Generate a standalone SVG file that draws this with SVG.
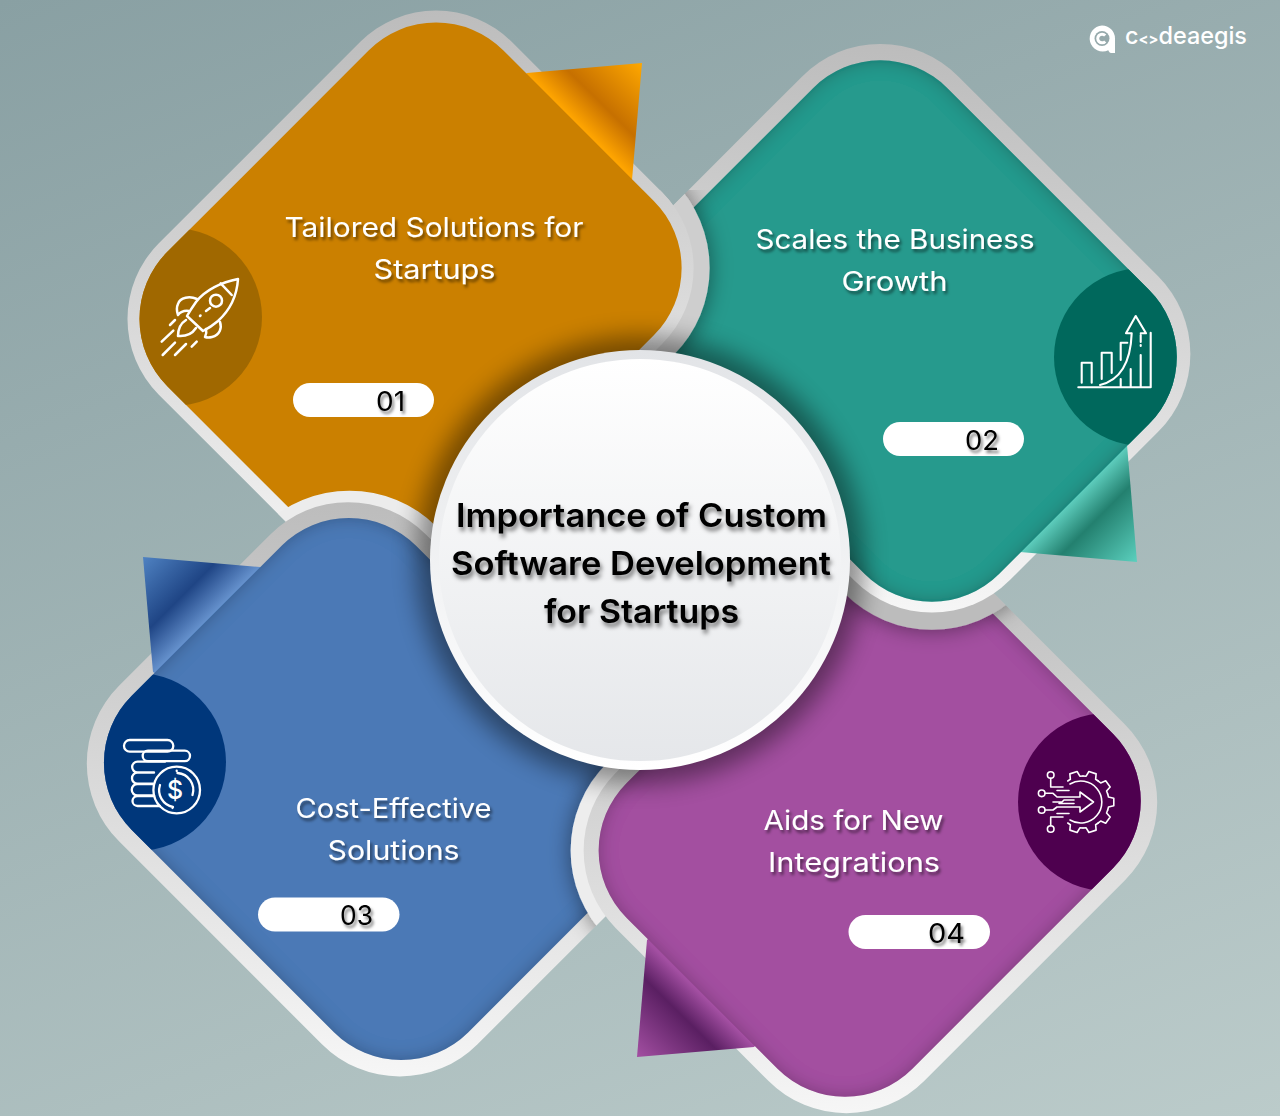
<svg xmlns="http://www.w3.org/2000/svg" xmlns:xlink="http://www.w3.org/1999/xlink" width="1280" height="1116" viewBox="0 0 1280 1116">
<style>
.lbl{font-family:Inter,"Open Sans","Liberation Sans",sans-serif;font-size:27px;font-weight:400;fill:#fff;text-anchor:middle;filter:url(#ts)}
.num{font-family:Inter,"Open Sans","Liberation Sans",sans-serif;font-size:27px;font-weight:400;fill:#000;filter:url(#ts)}
.ttl{font-family:Inter,"Open Sans","Liberation Sans",sans-serif;font-size:33px;font-weight:600;fill:#000;text-anchor:middle;filter:url(#ts2)}
.ic{fill:none;stroke:#fff;stroke-linecap:round;stroke-linejoin:round}
.pill{fill:#fff}
</style>
<defs>
<linearGradient id="bg" gradientUnits="userSpaceOnUse" x1="0" y1="0" x2="522" y2="1400"><stop offset="0" stop-color="#89a0a3"/><stop offset="1" stop-color="#bbcbca"/></linearGradient>
<linearGradient id="bord" x1="0" y1="0" x2="1" y2="1"><stop offset="0" stop-color="#b8b8b8"/><stop offset=".45" stop-color="#d4d4d4"/><stop offset="1" stop-color="#fbfbfb"/></linearGradient>
<linearGradient id="f1" gradientUnits="userSpaceOnUse" x1="580" y1="126" x2="642" y2="63"><stop offset="0" stop-color="#ffa500"/><stop offset=".35" stop-color="#c67000"/><stop offset="1" stop-color="#ffa800"/></linearGradient>
<linearGradient id="f2" gradientUnits="userSpaceOnUse" x1="1073" y1="498" x2="1137" y2="562"><stop offset="0" stop-color="#60d0c0"/><stop offset=".35" stop-color="#23806f"/><stop offset="1" stop-color="#5bd0be"/></linearGradient>
<linearGradient id="f3" gradientUnits="userSpaceOnUse" x1="206" y1="620" x2="143" y2="557"><stop offset="0" stop-color="#6490cc"/><stop offset=".38" stop-color="#1f4585"/><stop offset="1" stop-color="#4f82c2"/></linearGradient>
<linearGradient id="f4" gradientUnits="userSpaceOnUse" x1="700" y1="993" x2="637" y2="1057"><stop offset="0" stop-color="#a34fa2"/><stop offset=".32" stop-color="#5a1f62"/><stop offset="1" stop-color="#a34fa2"/></linearGradient>
<linearGradient id="ring" x1="0" y1="0" x2="0" y2="1"><stop offset="0" stop-color="#e2e4e7"/><stop offset="1" stop-color="#ffffff"/></linearGradient>
<linearGradient id="disc" x1="0" y1="0" x2="0" y2="1"><stop offset="0" stop-color="#ffffff"/><stop offset="1" stop-color="#e5e7ea"/></linearGradient>
<filter id="ts" x="-10%" y="-30%" width="120%" height="170%"><feDropShadow dx="2" dy="3" stdDeviation="1.6" flood-color="#000" flood-opacity=".5"/></filter>
<filter id="ts2" x="-10%" y="-30%" width="120%" height="170%"><feDropShadow dx="2" dy="4" stdDeviation="2" flood-color="#000" flood-opacity=".5"/></filter>
<filter id="inner" x="-5%" y="-5%" width="110%" height="110%"><feGaussianBlur in="SourceAlpha" stdDeviation="9" result="b"/><feComposite in="SourceAlpha" in2="b" operator="out" result="r"/><feFlood flood-color="#000" flood-opacity=".5"/><feComposite in2="r" operator="in" result="s"/><feMerge><feMergeNode in="SourceGraphic"/><feMergeNode in="s"/></feMerge></filter>
<filter id="band" x="-15%" y="-15%" width="130%" height="130%"><feDropShadow dx="0" dy="0" stdDeviation="11" flood-color="#000" flood-opacity=".45"/></filter>
<filter id="cs" x="-20%" y="-20%" width="140%" height="140%"><feGaussianBlur stdDeviation="12"/></filter>
<rect id="o-fill" x="209.5" y="55" width="403" height="475" rx="95" transform="rotate(45 409.5 292.5)"/>
<rect id="o-bord" x="197.5" y="43" width="427" height="499" rx="107" transform="rotate(45 409.5 292.5)"/>
<rect id="o-ext" x="181.5" y="27" width="459" height="531" rx="123" transform="rotate(45 409.5 292.5)"/>
<rect id="t-fill" x="669" y="129" width="475" height="402" rx="95" transform="rotate(45 905 330)"/>
<rect id="t-bord" x="653" y="113" width="503" height="430" rx="110" transform="rotate(45 905 330)"/>
<rect id="t-ext" x="641" y="101" width="531" height="458" rx="123" transform="rotate(45 905 330)"/>
<rect id="b-fill" x="137" y="588" width="476" height="402" rx="95" transform="rotate(45 375 789)"/>
<rect id="b-bord" x="121" y="573" width="507" height="434" rx="110" transform="rotate(45 375 789)"/>
<rect id="b-ext" x="110" y="560" width="530" height="458" rx="123" transform="rotate(45 375 789)"/>
<rect id="p-fill" x="668" y="588" width="404" height="474" rx="95" transform="rotate(45 869 825)"/>
<rect id="p-bord" x="653" y="573" width="436" height="504" rx="110" transform="rotate(45 869 825)"/>
<rect id="p-ext" x="640" y="560" width="460" height="530" rx="123" transform="rotate(45 869 825)"/>
<clipPath id="c-o"><use href="#o-fill"/></clipPath>
<clipPath id="c-t"><use href="#t-fill"/></clipPath>
<clipPath id="c-b"><use href="#b-fill"/></clipPath>
<clipPath id="c-p"><use href="#p-fill"/></clipPath>
<clipPath id="co-o"><use href="#o-bord"/></clipPath>
<clipPath id="co-t"><use href="#t-bord"/></clipPath>
<clipPath id="co-b"><use href="#b-bord"/></clipPath>
<clipPath id="co-p"><use href="#p-bord"/></clipPath>
<clipPath id="zone"><rect x="600" y="190" width="200" height="270"/></clipPath>
<path id="tooth" class="ic" stroke-width="1.6" d="M24.7 -8 L25.5 -5 L30.8 -3.8 V3.8 L25.5 5 L24.7 8"/>
</defs>
<rect width="1280" height="1116" fill="url(#bg)"/>

<g id="logo">
<path d="M1102 25.5a13 13 0 0 1 13 13V53h-3.5a3 3 0 0 1-2.6-1.6l-0.6-1.2A13 13 0 1 1 1102 25.5z" fill="#fff"/>
<circle cx="1102" cy="38.5" r="7.5" fill="#95a9ab"/>
<path d="M1105.2 35.6a4.3 4.3 0 1 0 0 5.8" fill="none" stroke="#fff" stroke-width="3"/>
<text x="1125" y="44" textLength="122" lengthAdjust="spacingAndGlyphs" style="font-family:Inter,'Open Sans',sans-serif;font-size:24px;font-weight:500;fill:#fff">c<tspan font-size="15" font-weight="700">&lt;&gt;</tspan>deaegis</text>
</g>

<g id="node-1">
<use href="#o-bord" fill="url(#bord)"/>
<path d="M527 73L642 63L632 180L620 190L515 85Z" fill="url(#f1)"/>
<use href="#o-fill" fill="#cb8000"/>
<circle cx="173" cy="317" r="89" fill="#a06800" clip-path="url(#c-o)"/>
<g class="ic" stroke-width="2.5">
<path d="M238 279C222 282 205 290 196 302Q191 309 187 316L203 331Q211 327 218 321C230 310 237 295 238 279Z"/>
<circle cx="216" cy="300.7" r="6"/>
<path d="M220.7 283.3L231.7 295"/>
<path d="M197 299C190 296 180 297 178 304C176 308 177 312 178 315Q182 310 189 311"/>
<path d="M220 322C222 328 220 335 212 337Q208 338 205 337Q207 333 206 329"/>
<path d="M186 320Q178 325 178 336Q190 337 196 328"/>
<path d="M161.7 341.7L173.3 330.7M170 325L175 320M162.7 355L175 342.7M175 355L186 344M191.7 346.7L196.7 341.7M206 311L210 308M200 316L200.5 315.5"/>
</g>
<text class="lbl" x="434" y="237" textLength="299" lengthAdjust="spacingAndGlyphs">Tailored Solutions for</text>
<text class="lbl" x="434.500" y="279" textLength="122" lengthAdjust="spacingAndGlyphs">Startups</text>
<rect class="pill" x="293" y="383" width="141" height="34" rx="17"/>
<text class="num" x="376" y="410.500" textLength="29" lengthAdjust="spacingAndGlyphs">01</text>
</g>

<g id="node-3">
<g clip-path="url(#co-o)"><use href="#b-ext" fill="#ececec"/></g>
<use href="#b-bord" fill="url(#bord)"/>
<path d="M260 567L143 557L153 672L170 682L272 580Z" fill="url(#f3)"/>
<use href="#b-fill" fill="#4c79b6" filter="url(#inner)"/>
<circle cx="137" cy="762" r="89" fill="#00377b" clip-path="url(#c-b)"/>
<g class="ic" stroke-width="2.3">
<rect x="124" y="740" width="49.3" height="11.7" rx="5.8"/>
<rect x="142.7" y="750.7" width="47.3" height="10.5" rx="5.2"/>
<path d="M165 761.7H137.5a5 5 0 0 0 0 10.7H154M154 772.7H137.5a5.2 5.2 0 0 0 0 11H153M153 784H137.5a5.5 5.5 0 0 0 0 11.5H154M154 796H137.5a5 5 0 0 0 0 10H160"/>
<circle cx="176.7" cy="790" r="23.3"/>
<path d="M177.5 773a17 17 0 0 1 15 22M173 807a17 17 0 0 1 -13 -22M176.7 770.7V771M172.500 807.5V808"/>
</g>
<text x="175" y="799" style="font-family:Inter,sans-serif;font-size:25px;font-weight:500;fill:#fff;text-anchor:middle">$</text>
<text class="lbl" x="393.500" y="818" textLength="196" lengthAdjust="spacingAndGlyphs">Cost-Effective</text>
<text class="lbl" x="393.500" y="860" textLength="132" lengthAdjust="spacingAndGlyphs">Solutions</text>
<rect class="pill" x="258" y="897.500" width="141.500" height="34" rx="17"/>
<text class="num" x="340" y="925" textLength="33" lengthAdjust="spacingAndGlyphs">03</text>
</g>

<g id="node-4">
<g clip-path="url(#co-b)"><use href="#p-ext" fill="#ededed" filter="url(#band)"/></g>
<use href="#p-bord" fill="url(#bord)"/>
<path d="M647 940L637 1057L754 1047L766 1035L660 928Z" fill="url(#f4)"/>
<use href="#p-fill" fill="#a34fa0" filter="url(#inner)"/>
<circle cx="1107" cy="802" r="89" fill="#4e004f" clip-path="url(#c-p)"/>
<g stroke-width="1.6">
<use href="#tooth" transform="translate(1083 802) rotate(-108)"/>
<use href="#tooth" transform="translate(1083 802) rotate(-72)"/>
<use href="#tooth" transform="translate(1083 802) rotate(-36)"/>
<use href="#tooth" transform="translate(1083 802)"/>
<use href="#tooth" transform="translate(1083 802) rotate(36)"/>
<use href="#tooth" transform="translate(1083 802) rotate(72)"/>
<use href="#tooth" transform="translate(1083 802) rotate(108)"/>
</g>
<g class="ic" stroke-width="1.6">
<circle cx="1050.700" cy="775" r="3.300"/><circle cx="1041.700" cy="793.300" r="3.300"/><circle cx="1041.700" cy="810" r="3.300"/><circle cx="1050.700" cy="829" r="3.300"/>
<path d="M1050.700 778.300V787H1063M1045 793.300H1053L1057 797H1080V792L1093.500 802L1080 812V807H1057L1053 810H1045M1050.700 825.700V817H1063"/>
<path d="M1057 790.500H1069M1057 813.500H1069M1053 802H1062L1064 800H1074M1059 803.500H1074"/>
<path d="M1070 784A21 21 0 1 1 1070 820"/>
</g>
<text class="lbl" x="853.500" y="830" textLength="180" lengthAdjust="spacingAndGlyphs">Aids for New</text>
<text class="lbl" x="854" y="872" textLength="172" lengthAdjust="spacingAndGlyphs">Integrations</text>
<rect class="pill" x="848.500" y="915" width="141.500" height="34" rx="17"/>
<text class="num" x="928" y="943" textLength="37" lengthAdjust="spacingAndGlyphs">04</text>
</g>

<g id="node-2">
<g clip-path="url(#co-p)"><use href="#t-ext" fill="#bcbcbc" filter="url(#band)"/></g>
<use href="#t-bord" fill="url(#bord)"/>
<path d="M1127 445L1137 562L1020 552L1008 540L1115 433Z" fill="url(#f2)"/>
<use href="#t-fill" fill="#269a8d" filter="url(#inner)"/>
<circle cx="1143" cy="357" r="89" fill="#00685c" clip-path="url(#c-t)"/>
<g class="ic" stroke-width="2.1">
<path d="M1078.300 387.300H1150.700M1150.700 332.700V387.300"/>
<path d="M1081.700 382.700V362.700H1091.700V382.700M1101.700 379V352.700H1111.700V373M1120.700 360V342.700H1127.300M1120.700 379V387M1130.700 369V387M1140.700 355V387M1140.700 345V346M1140.700 335V342"/>
<path d="M1100 385Q1130 378 1131.700 333.300"/>
<path d="M1130.700 333.300H1126L1135.700 316L1146 333.300H1140.700"/>
</g>
<text class="lbl" x="895" y="249" textLength="279" lengthAdjust="spacingAndGlyphs">Scales the Business</text>
<text class="lbl" x="894.500" y="291" textLength="106" lengthAdjust="spacingAndGlyphs">Growth</text>
<rect class="pill" x="883" y="422" width="141" height="34" rx="17"/>
<text class="num" x="965" y="450" textLength="34" lengthAdjust="spacingAndGlyphs">02</text>
</g>

<g id="node-1-overlap" clip-path="url(#zone)">
<g clip-path="url(#co-t)"><use href="#o-ext" fill="#cecece" filter="url(#band)"/></g>
<use href="#o-bord" fill="url(#bord)"/>
<use href="#o-fill" fill="#cb8000"/>
</g>

<g id="center">
<circle cx="640" cy="560" r="224" fill="#000" opacity=".42" filter="url(#cs)"/>
<circle cx="640" cy="560" r="210" fill="url(#ring)"/>
<circle cx="640" cy="560" r="201" fill="url(#disc)"/>
<text class="ttl" x="641.500" y="527" textLength="371" lengthAdjust="spacingAndGlyphs">Importance of Custom</text>
<text class="ttl" x="641" y="575" textLength="380" lengthAdjust="spacingAndGlyphs">Software Development</text>
<text class="ttl" x="641.500" y="623" textLength="195" lengthAdjust="spacingAndGlyphs">for Startups</text>
</g>
</svg>
